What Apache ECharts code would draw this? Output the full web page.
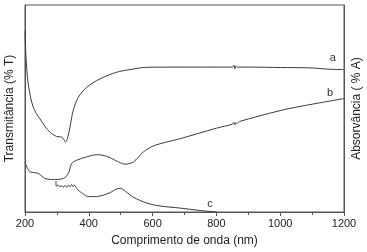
<!DOCTYPE html>
<html>
<head>
<meta charset="utf-8">
<script src="https://cdn.jsdelivr.net/npm/echarts@6/dist/echarts.min.js"></script>
<style>
  html, body { margin: 0; padding: 0; background: #fff; }
  #chart { width: 367px; height: 252px; }
</style>
</head>
<body>
<div id="chart"></div>
<script>
// curve a (transmitance)
var lambdaA = [200, 203, 206, 210, 218, 226, 236, 247, 262, 278, 299, 315, 322, 327, 333, 341, 351, 367, 393, 435, 487, 529, 581, 686, 800, 850, 855, 858, 862, 866, 900, 1000, 1100, 1150, 1200]
var valuesA = [87.5, 75, 68, 62, 55, 50.6, 47.5, 45, 41.5, 38.6, 36.5, 36.2, 35, 33.8, 35.5, 41, 49, 55.4, 60.2, 64.3, 67.5, 68.8, 69.9, 70, 70, 70, 70.9, 69.2, 70.6, 70, 70, 69.8, 69.6, 69, 68.8]
// curve b
var lambdaB = [200, 208, 216, 230, 242, 263, 289, 320, 336, 346, 362, 393, 425, 456, 487, 513, 540, 571, 602, 644, 686, 800, 850, 855, 858, 862, 866, 874, 1000, 1062, 1200]
var valuesB = [24.2, 21, 19.4, 19, 18.6, 16.2, 15.7, 16.2, 18.6, 23.4, 25, 26.6, 27.7, 26.9, 24.7, 23.1, 24.2, 29, 31.9, 33.8, 35.4, 40.5, 42.4, 43.4, 42, 43.2, 42.8, 43.8, 49, 51, 54.8]
// curve c
var lambdaC = [297, 298, 304.6, 309.7, 315, 320, 325, 330.7, 335.7, 341, 346, 351, 354.5, 362, 370, 377.7, 393, 414, 435, 456, 472, 485, 498, 515, 539, 582, 623, 686, 750, 800]
var valuesC = [15, 12.5, 13, 12.2, 12.7, 11.9, 12.8, 11.9, 13, 12.2, 13.3, 12.2, 13, 11.4, 10.1, 9.3, 7.7, 7.4, 7.7, 8.7, 9.8, 11, 11.5, 10, 7.2, 4.3, 2.9, 1.9, 0.7, 0]
var curveLabels = ['a', 'b', 'c']
var labelAt = [[1165, 74.5], [1156, 57.7], [780, 3.8]]

function pairs(xs, ys) {
  return xs.map(function(x, i) { return [x, ys[i]] })
}

var chart = echarts.init(document.getElementById('chart'))
var lineColor = '#3a3a3a'
var font = 'Liberation Sans, Arial, sans-serif'

function curve(name, data, idx) {
  return {
    name: name,
    type: 'line',
    data: data,
    symbol: 'none',
    smooth: 0.3,
    animation: false,
    lineStyle: { color: lineColor, width: 1 },
    markPoint: {
      symbol: 'circle',
      symbolSize: 0,
      data: [{ coord: labelAt[idx], value: curveLabels[idx] }],
      label: { show: true, formatter: curveLabels[idx], color: '#333', fontSize: 11, fontFamily: font }
    }
  }
}

chart.setOption({
  animation: false,
  grid: {
    left: 25, right: 23, top: 5, bottom: 40,
    containLabel: false,
    outerBoundsMode: 'none',
    show: true, borderColor: '#555', borderWidth: 1
  },
  xAxis: {
    type: 'value',
    min: 200,
    max: 1200,
    interval: 200,
    name: 'Comprimento de onda (nm)',
    nameLocation: 'middle',
    nameGap: 23,
    nameTextStyle: { color: '#222', fontSize: 12, fontFamily: font },
    axisLine: { show: true, lineStyle: { color: '#555' } },
    axisTick: { show: true, length: 4, lineStyle: { color: '#555' } },
    minorTick: { show: true, splitNumber: 2, length: 3, lineStyle: { color: '#555' } },
    splitLine: { show: false },
    axisLabel: {
      color: '#222', fontSize: 11, fontFamily: font, margin: 6,
      formatter: function(v) { return String(v) }
    }
  },
  yAxis: [
    {
      type: 'value',
      min: 0,
      max: 100,
      name: 'Transmitância (% T)',
      nameLocation: 'middle',
      nameGap: 9,
      nameRotate: 90,
      nameTextStyle: { color: '#222', fontSize: 12, fontFamily: font },
      axisLine: { show: true, lineStyle: { color: '#555' } },
      axisTick: { show: false },
      axisLabel: { show: false },
      splitLine: { show: false }
    },
    {
      type: 'value',
      min: 0,
      max: 100,
      position: 'right',
      name: 'Absorvância ( % A)',
      nameLocation: 'middle',
      nameGap: 7,
      nameRotate: 90,
      nameTextStyle: { color: '#222', fontSize: 12, fontFamily: font },
      axisLine: { show: true, lineStyle: { color: '#555' } },
      axisTick: { show: false },
      axisLabel: { show: false },
      splitLine: { show: false }
    }
  ],
  series: [
    curve('a', pairs(lambdaA, valuesA), 0),
    curve('b', pairs(lambdaB, valuesB), 1),
    curve('c', pairs(lambdaC, valuesC), 2)
  ]
})
</script>
</body>
</html>
